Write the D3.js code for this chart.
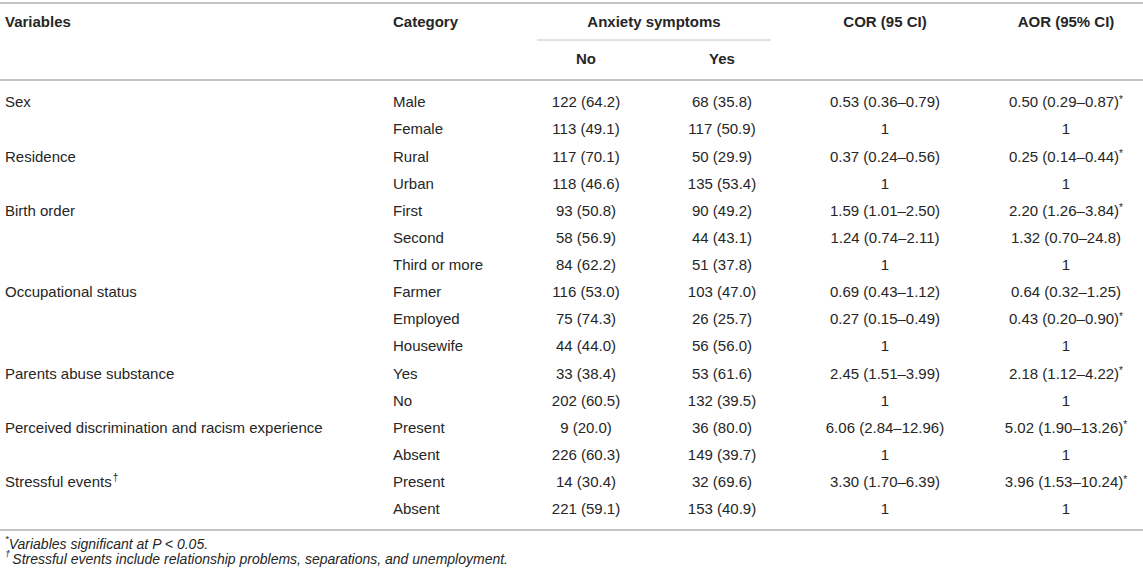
<!DOCTYPE html>
<html>
<head>
<meta charset="utf-8">
<script src="https://cdn.jsdelivr.net/npm/d3@7"></script>
<style>
  body { margin: 0; background: #fff; }
  svg { display: block; }
  text { font-family: "Liberation Sans", Arial, Helvetica, sans-serif; fill: #262626; }
</style>
</head>
<body>
<svg id="chart" width="1143" height="568"></svg>
<script>
// table contents
var variables = ["Sex", "", "Residence", "", "Birth order", "", "", "Occupational status", "", "",
    "Parents abuse substance", "", "Perceived discrimination and racism experience", "", "Stressful events", ""];
var daggerRows = ["Stressful events"];
var categories = ["Male", "Female", "Rural", "Urban", "First", "Second", "Third or more", "Farmer",
    "Employed", "Housewife", "Yes", "No", "Present", "Absent", "Present", "Absent"];
var noValues = ["122 (64.2)", "113 (49.1)", "117 (70.1)", "118 (46.6)", "93 (50.8)", "58 (56.9)",
    "84 (62.2)", "116 (53.0)", "75 (74.3)", "44 (44.0)", "33 (38.4)", "202 (60.5)", "9 (20.0)",
    "226 (60.3)", "14 (30.4)", "221 (59.1)"];
var yesValues = ["68 (35.8)", "117 (50.9)", "50 (29.9)", "135 (53.4)", "90 (49.2)", "44 (43.1)",
    "51 (37.8)", "103 (47.0)", "26 (25.7)", "56 (56.0)", "53 (61.6)", "132 (39.5)", "36 (80.0)",
    "149 (39.7)", "32 (69.6)", "153 (40.9)"];
var corValues = ["0.53 (0.36–0.79)", "1", "0.37 (0.24–0.56)", "1", "1.59 (1.01–2.50)", "1.24 (0.74–2.11)",
    "1", "0.69 (0.43–1.12)", "0.27 (0.15–0.49)", "1", "2.45 (1.51–3.99)", "1", "6.06 (2.84–12.96)",
    "1", "3.30 (1.70–6.39)", "1"];
var aorValues = ["0.50 (0.29–0.87)", "1", "0.25 (0.14–0.44)", "1", "2.20 (1.26–3.84)", "1.32 (0.70–24.8)",
    "1", "0.64 (0.32–1.25)", "0.43 (0.20–0.90)", "1", "2.18 (1.12–4.22)", "1", "5.02 (1.90–13.26)",
    "1", "3.96 (1.53–10.24)", "1"];
var aorSignificant = [true, false, true, false, true, false, false, false, true, false, true, false,
    true, false, true, false];
var headers = ["Variables", "Category", "Anxiety symptoms", "COR (95 CI)", "AOR (95% CI)"];
var subHeaders = ["No", "Yes"];
var footnotes = [
    { mark: "*", text: "Variables significant at P < 0.05." },
    { mark: "†", text: "Stressful events include relationship problems, separations, and unemployment." }
];

var svg = d3.select("#chart"),
    width = +svg.attr("width");

var fontSize = 15;
var ruleColor = "#c4c4c4";

// column anchors
var col = {
    variable: 5,
    category: 393,
    no: 586,
    yes: 722,
    cor: 885,
    aor: 1066
};

var rowIndex = d3.range(categories.length);
var y = d3.scalePoint()
    .domain(rowIndex)
    .range([102, 509]);

// rules
function rule(x1, x2, yy, w) {
    svg.append("line")
        .attr("x1", x1).attr("x2", x2)
        .attr("y1", yy).attr("y2", yy)
        .attr("stroke", ruleColor)
        .attr("stroke-width", w);
}
rule(0, width, 3, 2);
rule(537, 771, 40, 1);
rule(0, width, 80, 2);
rule(0, width, 530, 2);

// header
var head = svg.append("g")
    .attr("font-weight", "bold")
    .attr("font-size", fontSize);
head.append("text").attr("x", col.variable).attr("y", 22).attr("dy", "0.35em").text(headers[0]);
head.append("text").attr("x", col.category).attr("y", 22).attr("dy", "0.35em").text(headers[1]);
head.append("text").attr("x", (col.no + col.yes) / 2).attr("y", 22).attr("dy", "0.35em")
    .attr("text-anchor", "middle").text(headers[2]);
head.append("text").attr("x", col.cor).attr("y", 22).attr("dy", "0.35em")
    .attr("text-anchor", "middle").text(headers[3]);
head.append("text").attr("x", col.aor).attr("y", 22).attr("dy", "0.35em")
    .attr("text-anchor", "middle").text(headers[4]);
head.selectAll(".sub")
    .data(subHeaders)
    .enter().append("text")
    .attr("class", "sub")
    .attr("x", (d, i) => i == 0 ? col.no : col.yes)
    .attr("y", 59)
    .attr("dy", "0.35em")
    .attr("text-anchor", "middle")
    .text(d => d);

// body rows
var rows = svg.selectAll(".row")
    .data(rowIndex)
    .enter().append("g")
    .attr("class", "row")
    .attr("font-size", fontSize)
    .attr("transform", d => "translate(0," + y(d) + ")");

var varText = rows.append("text")
    .attr("x", col.variable)
    .attr("dy", "0.35em")
    .text(d => variables[d]);
varText.filter(d => daggerRows.indexOf(variables[d]) != -1)
    .append("tspan")
    .attr("font-size", 10)
    .attr("dy", "-0.6em")
    .attr("dx", 1)
    .text("†");

rows.append("text")
    .attr("x", col.category)
    .attr("dy", "0.35em")
    .text(d => categories[d]);

rows.append("text")
    .attr("x", col.no)
    .attr("dy", "0.35em")
    .attr("text-anchor", "middle")
    .text(d => noValues[d]);

rows.append("text")
    .attr("x", col.yes)
    .attr("dy", "0.35em")
    .attr("text-anchor", "middle")
    .text(d => yesValues[d]);

rows.append("text")
    .attr("x", col.cor)
    .attr("dy", "0.35em")
    .attr("text-anchor", "middle")
    .text(d => corValues[d]);

var aorText = rows.append("text")
    .attr("x", col.aor)
    .attr("dy", "0.35em")
    .attr("text-anchor", "middle");
aorText.append("tspan").text(d => aorValues[d]);
aorText.filter(d => aorSignificant[d])
    .append("tspan")
    .attr("font-size", 10)
    .attr("dy", "-0.45em")
    .text("*");

// footnotes
var notes = svg.selectAll(".note")
    .data(footnotes)
    .enter().append("text")
    .attr("class", "note")
    .attr("x", 5)
    .attr("y", (d, i) => 543 + i * 15)
    .attr("dy", "0.35em")
    .attr("font-size", 14)
    .attr("font-style", "italic");
notes.append("tspan")
    .attr("font-size", 9.5)
    .attr("dy", "-0.15em")
    .text(d => d.mark);
notes.append("tspan")
    .attr("dy", "0.5em")
    .attr("dx", (d, i) => i == 1 ? 2 : 0)
    .text(d => d.text);
</script>
</body>
</html>
